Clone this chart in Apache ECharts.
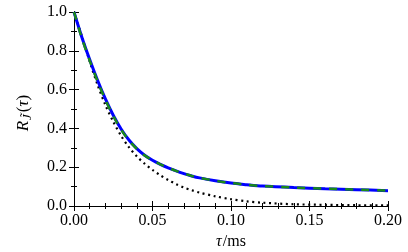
<!DOCTYPE html>
<html><head><meta charset="utf-8">
<script src="https://cdn.jsdelivr.net/npm/echarts@6/dist/echarts.min.js"></script>
<style>html,body{margin:0;padding:0;background:#fff}#c{width:408px;height:252px}</style>
</head><body><div id="c"></div>
<script>
var tau = [0, 0.005, 0.01, 0.015, 0.02, 0.025, 0.03, 0.035, 0.04, 0.045, 0.05, 0.055, 0.06, 0.065, 0.07, 0.075, 0.08, 0.09, 0.10, 0.11, 0.12, 0.14, 0.16, 0.18, 0.20];
var blueSolid = [1.0, 0.87, 0.755, 0.648, 0.552, 0.468, 0.397, 0.340, 0.296, 0.262, 0.236, 0.215, 0.197, 0.181, 0.167, 0.155, 0.145, 0.130, 0.118, 0.110, 0.103, 0.095, 0.089, 0.084, 0.079];
var greenDashed = [1.0, 0.865, 0.749, 0.642, 0.547, 0.464, 0.394, 0.338, 0.295, 0.261, 0.236, 0.215, 0.197, 0.181, 0.167, 0.155, 0.145, 0.130, 0.118, 0.110, 0.103, 0.095, 0.089, 0.084, 0.079];
var blackDotted = [1.0, 0.875, 0.745, 0.625, 0.52, 0.435, 0.362, 0.303, 0.256, 0.218, 0.186, 0.158, 0.134, 0.113, 0.095, 0.081, 0.069, 0.05, 0.035, 0.024, 0.017, 0.009, 0.006, 0.004, 0.003];
var xTicks = [0, 0.05, 0.10, 0.15, 0.20];
var yTicks = [0, 0.2, 0.4, 0.6, 0.8, 1.0];

function pairs(v){ return tau.map(function(t,i){ return [t, v[i]]; }); }
var font = 'Liberation Serif';
var xMin = xTicks[0], xMax = xTicks[xTicks.length-1];
var yMin = yTicks[0], yMax = yTicks[yTicks.length-1];

function axis(pos, min, max, interval, len, labels, extra){
  var a = {
    type: 'value', position: pos, min: min, max: max, interval: interval,
    axisLine: {show: true, lineStyle: {color: '#000', width: 1}},
    axisTick: {show: true, inside: true, length: len, lineStyle: {color: '#000', width: 1}},
    minorTick: {show: false},
    splitLine: {show: false},
    axisLabel: {show: false}
  };
  if (labels) a.axisLabel = labels;
  return Object.assign(a, extra || {});
}
var labelStyle = {show: true, margin: 7, color: '#000', fontFamily: font, fontSize: 16};

var chart = echarts.init(document.getElementById('c'), null, {renderer: 'canvas'});
chart.setOption({
  animation: false,
  backgroundColor: '#fff',
  grid: {left: 74, right: 20, top: 12, bottom: 46, containLabel: false, outerBoundsMode: 'none'},
  xAxis: [
    axis('bottom', xMin, xMax, 0.05, 5, Object.assign({}, labelStyle, {formatter: function(v){ return v.toFixed(2); }}), {
      name: '{i|τ}{n|/ms}', nameLocation: 'middle', nameGap: 28,
      nameTextStyle: {rich: {i: {fontFamily: font, fontStyle: 'italic', fontSize: 16, color: '#000'}, n: {fontFamily: font, fontSize: 16, color: '#000', padding: [0, 0, 0, 1]}}}
    }),
    axis('bottom', xMin, xMax, 0.01, 3, null),
    axis('top', xMin, xMax, 0.05, 5, null),
    axis('top', xMin, xMax, 0.01, 3, null)
  ],
  yAxis: [
    axis('left', yMin, yMax, 0.2, 5, Object.assign({}, labelStyle, {formatter: function(v){ return v.toFixed(1); }}), {
      name: '{i|R}{s|J̃}{n|(}{i|τ}{n|)}', nameLocation: 'middle', nameGap: 40, nameRotate: 90,
      nameTextStyle: {padding: [0, 0, 0, -8], rich: {
        i: {fontFamily: font, fontStyle: 'italic', fontSize: 17, color: '#000'},
        s: {fontFamily: font, fontStyle: 'italic', fontSize: 13, color: '#000', padding: [8, 2, 0, 1]},
        n: {fontFamily: font, fontSize: 17, color: '#000'}}}
    }),
    axis('left', yMin, yMax, 0.1, 3, null),
    axis('right', yMin, yMax, 0.2, 5, null),
    axis('right', yMin, yMax, 0.1, 3, null)
  ],
  series: [
    {type: 'line', xAxisIndex: 0, yAxisIndex: 0, data: pairs(blackDotted), smooth: 0.3, symbol: 'none', z: 3,
      lineStyle: {color: '#000', width: 2.2, type: [2, 3.6], cap: 'butt'}},
    {type: 'line', xAxisIndex: 0, yAxisIndex: 0, data: pairs(blueSolid), smooth: 0.3, symbol: 'none', z: 4,
      lineStyle: {color: '#0000ff', width: 3}},
    {type: 'line', xAxisIndex: 0, yAxisIndex: 0, data: pairs(greenDashed), smooth: 0.3, symbol: 'none', z: 5,
      lineStyle: {color: '#1a8a1a', width: 2.5, type: [8, 8]}}
  ]
});
</script></body></html>
